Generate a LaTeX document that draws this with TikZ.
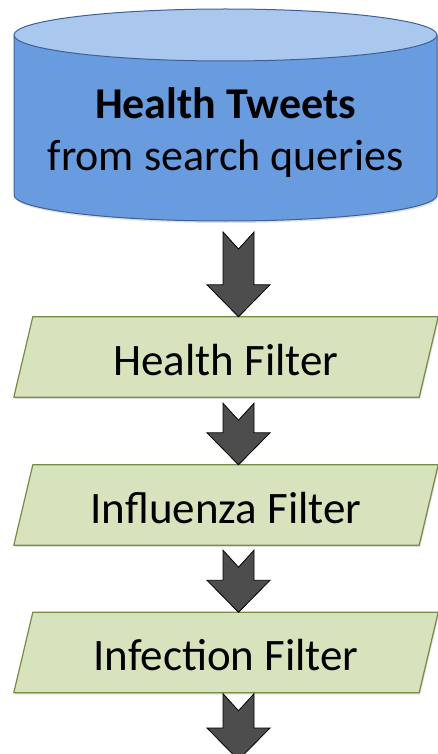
\documentclass[tikz,border=0pt]{standalone}
\usepackage{fontspec}
\setmainfont{Carlito}
\usetikzlibrary{calc,shadows,backgrounds}
\definecolor{cyltopc}{RGB}{170,199,238}
\definecolor{cylbodyc}{RGB}{104,156,222}
\definecolor{cyllinec}{RGB}{62,96,150}
\definecolor{parafillc}{RGB}{214,227,188}
\definecolor{paralinec}{RGB}{118,140,70}
\definecolor{arrfillc}{RGB}{77,77,77}
\tikzset{
  cylbodystyle/.style={fill=cylbodyc},
  cyledge/.style={draw=cyllinec, line width=1pt},
  cyltopstyle/.style={fill=cyltopc, draw=cyllinec, line width=1pt},
  cyltext/.style={align=center, inner sep=0pt, font=\fontsize{44}{52}\selectfont},
  filtbox/.style={rectangle, minimum width=424pt, minimum height=80pt, inner sep=0pt,
    text height=36pt, text depth=0pt, font=\fontsize{45}{54}\selectfont},
  parastyle/.style={fill=parafillc, draw=paralinec, line width=1.2pt, line join=round,
    drop shadow={opacity=0.25, shadow xshift=1pt, shadow yshift=-2pt}},
  blockarr/.style={fill=arrfillc, draw=black, line width=0.8pt, line join=miter}
}
\newcommand\blockarrow[2]{%
  \draw[blockarr] ($(#1)+(-15.5,0)$) -- ($(#1)+(0,17)$) -- ($(#1)+(15.5,0)$)
    -- ($(#2)+(15.5,-32)$) -- ($(#2)+(31.5,-32)$) -- (#2)
    -- ($(#2)+(-31.5,-32)$) -- ($(#2)+(-15.5,-32)$) -- cycle;}
\newcommand\paragram[1]{%
  \path[parastyle] (#1.south west) -- ($(#1.north west)+(19,0)$) -- (#1.north east)
    -- ($(#1.south east)+(-19,0)$) -- cycle;}
\begin{document}
\begin{tikzpicture}[x=1pt,y=-1pt]
\useasboundingbox (0,0) rectangle (438,754);
\clip (0,0) rectangle (438,754);

% text nodes
\node[cyltext] (cyl) at (225.5,133) {\textbf{Health Tweets}\\from search queries};
\node[filtbox] (f1) at (226,357) {Health Filter};
\node[filtbox] (f2) at (226,505) {Influenza Filter};
\node[filtbox] (f3) at (226,652.5) {Infection Filter};

\begin{scope}[on background layer]
  % cylinder
  \fill[cylbodystyle, drop shadow={opacity=0.25, shadow xshift=1pt, shadow yshift=-2pt}]
    (14,35) -- (14,195) .. controls (14,209.36) and (108.69,221) .. (225.5,221)
    .. controls (342.31,221) and (437,209.36) .. (437,195) -- (437,35) -- cycle;
  \draw[cyledge] (14,35) -- (14,195) .. controls (14,209.36) and (108.69,221) .. (225.5,221)
    .. controls (342.31,221) and (437,209.36) .. (437,195) -- (437,35);
  \draw[cyltopstyle] (225.5,35) ellipse[x radius=211.5, y radius=26];
  % parallelograms
  \paragram{f1}
  \paragram{f2}
  \paragram{f3}
\end{scope}

% arrow anchor points
\coordinate (ax) at (238.5,0);
\coordinate (cylout) at (238.5,232);
\coordinate (f1in) at (f1.north -| ax);
\coordinate (f1out) at ($(f1.south -| ax)+(0,6)$);
\coordinate (f2in) at (f2.north -| ax);
\coordinate (f2out) at ($(f2.south -| ax)+(0,5)$);
\coordinate (f3in) at (f3.north -| ax);
\coordinate (f3out) at ($(f3.south -| ax)+(0,1)$);
\coordinate (outend) at (238.5,760);

\blockarrow{cylout}{f1in}
\blockarrow{f1out}{f2in}
\blockarrow{f2out}{f3in}
\blockarrow{f3out}{outend}
\end{tikzpicture}
\end{document}
